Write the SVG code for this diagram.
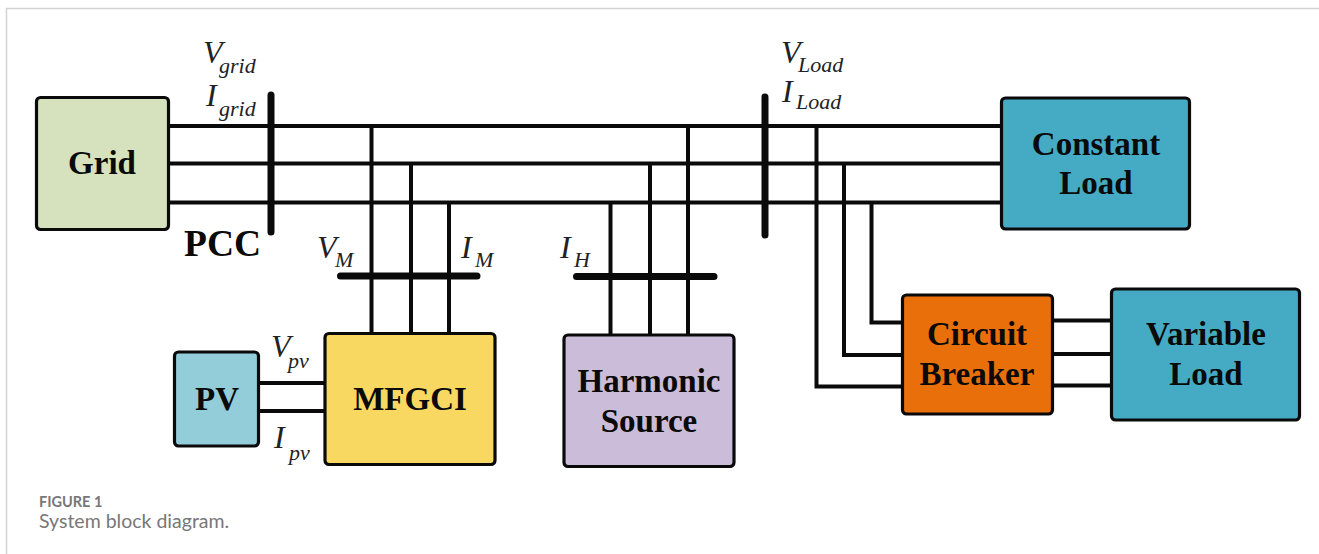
<svg xmlns="http://www.w3.org/2000/svg" width="1319" height="554" viewBox="0 0 1319 554">
<style>
.n{stroke:#0a0a0a;stroke-width:3.2}
.l{fill:#0a0a0a;font-family:"Liberation Serif",serif;font-weight:bold;font-size:33px;text-anchor:middle}
.v{fill:#222;font-family:"Liberation Serif",serif;font-style:italic;font-size:32px}
.s{font-size:22px}
.w{fill:none;stroke:#0a0a0a;stroke-width:4}
.b{fill:none;stroke:#0a0a0a;stroke-width:7;stroke-linecap:round}
.c{fill:#777;font-family:Lato,sans-serif}
</style>
<rect width="1319" height="554" fill="#fff"/>
<path d="M6.500 554V8.500H1319" fill="none" stroke="#d2d2d2" stroke-width="1.500"/>
<g id="connectors">
<path class="w" d="M168 126H1001M168 163.500H1001M168 202.500H1001"/>
<path class="w" d="M371.500 126V334M411 163.500V334M449 202.500V334"/>
<path class="w" d="M610.500 202.500V336M650 163.500V336M688 126V336"/>
<path class="w" d="M816.500 126V386.500H903M844 163.500V355H903M871.500 202.500V322.500H903"/>
<path class="w" d="M1053 320.500H1111M1053 354H1111M1053 385.500H1111"/>
<path class="w" d="M259 383H325M259 411H325"/>
<path class="b" d="M271 95V232M765 97V235M340.500 276H477M576.500 276.500H714"/>
</g>
<g id="grid"><rect class="n" x="36.500" y="97.500" width="132" height="132" rx="4" fill="#d5e2bd"/><text class="l" x="102" y="174">Grid</text></g>
<g id="constant-load"><rect class="n" x="1001.500" y="98" width="188" height="131" rx="4" fill="#45abc5"/><text class="l" x="1096" y="155">Constant</text><text class="l" x="1096" y="194">Load</text></g>
<g id="circuit-breaker"><rect class="n" x="902.500" y="295" width="150" height="119" rx="4" fill="#e86f0a"/><text class="l" x="977" y="345">Circuit</text><text class="l" x="977" y="385">Breaker</text></g>
<g id="variable-load"><rect class="n" x="1111.500" y="289" width="188" height="131" rx="4" fill="#45abc5"/><text class="l" x="1206" y="345">Variable</text><text class="l" x="1206" y="385">Load</text></g>
<g id="pv"><rect class="n" x="174.500" y="352" width="84" height="94" rx="4" fill="#93cdda"/><text class="l" x="217" y="410">PV</text></g>
<g id="mfgci"><rect class="n" x="325" y="333.500" width="170" height="131" rx="4" fill="#f9d862"/><text class="l" x="410" y="410">MFGCI</text></g>
<g id="harmonic-source"><rect class="n" x="564" y="335" width="170" height="131.500" rx="4" fill="#cbbdd9"/><text class="l" x="649" y="392">Harmonic</text><text class="l" x="649" y="432">Source</text></g>
<g id="labels">
<text class="l" style="font-size:37.500px;text-anchor:start" x="184" y="256">PCC</text>
<text class="v" x="203" y="63">V</text><text class="v s" x="219" y="73">grid</text>
<text class="v" x="206" y="106">I</text><text class="v s" x="219" y="116">grid</text>
<text class="v" x="781" y="63">V</text><text class="v s" x="798" y="72">Load</text>
<text class="v" x="782" y="102">I</text><text class="v s" x="796" y="109">Load</text>
<text class="v" x="317" y="258">V</text><text class="v s" x="335" y="267">M</text>
<text class="v" x="461" y="258">I</text><text class="v s" x="475" y="267">M</text>
<text class="v" x="560" y="258">I</text><text class="v s" x="574" y="267">H</text>
<text class="v" x="271" y="357">V</text><text class="v s" x="288" y="368">pv</text>
<text class="v" x="274" y="448">I</text><text class="v s" x="289" y="460">pv</text>
</g>
<text class="c" x="39" y="507" style="font-size:14.500px;font-weight:700">FIGURE 1</text>
<text class="c" x="39" y="528" style="font-size:19.500px">System block diagram.</text>
</svg>
